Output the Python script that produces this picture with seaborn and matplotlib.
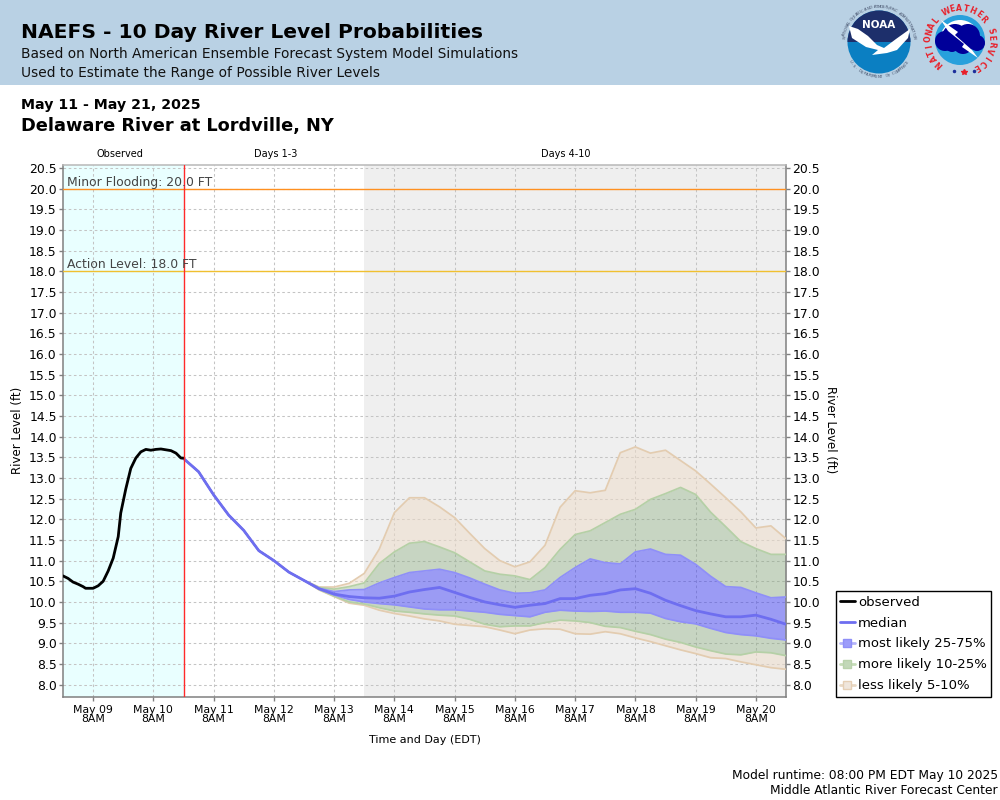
import numpy as np
import pandas as pd
import seaborn as sns
import matplotlib.pyplot as plt
from matplotlib.lines import Line2D
from matplotlib.patches import Circle, Wedge, Polygon

# observed stage, hours after May 08 8PM
obs_hours = [0, 2, 4, 6, 8, 9, 12, 14, 16, 18, 20, 22, 23, 25, 27, 29, 31, 33, 35, 37, 39, 41, 43, 45, 47, 48]
obs_level = [10.63, 10.57, 10.48, 10.43, 10.37, 10.33, 10.33, 10.39, 10.50, 10.75, 11.06, 11.58, 12.15,
             12.73, 13.23, 13.48, 13.63, 13.69, 13.67, 13.69, 13.70, 13.68, 13.66, 13.60, 13.48, 13.48]

# forecast, every 6 hours from May 10 8PM
median = [13.47, 13.15, 12.59, 12.10, 11.73, 11.24, 11.00, 10.72, 10.52, 10.32, 10.19, 10.13, 10.10,
          10.09, 10.14, 10.24, 10.30, 10.35, 10.23, 10.11, 10.00, 9.93, 9.87, 9.92, 9.96, 10.08, 10.08,
          10.16, 10.20, 10.29, 10.32, 10.21, 10.04, 9.91, 9.79, 9.71, 9.64, 9.64, 9.68, 9.58, 9.46]
q95 = [13.47, 13.15, 12.59, 12.10, 11.73, 11.24, 11.00, 10.72, 10.52, 10.36, 10.36, 10.45, 10.69,
       11.28, 12.16, 12.52, 12.52, 12.30, 12.04, 11.66, 11.29, 11.00, 10.85, 10.97, 11.37, 12.29, 12.69,
       12.64, 12.70, 13.61, 13.75, 13.60, 13.67, 13.42, 13.17, 12.85, 12.52, 12.18, 11.79, 11.84, 11.53]
q90 = [13.47, 13.15, 12.59, 12.10, 11.73, 11.24, 11.00, 10.72, 10.52, 10.35, 10.31, 10.37, 10.46,
       10.93, 11.21, 11.42, 11.46, 11.33, 11.19, 10.97, 10.75, 10.67, 10.63, 10.54, 10.83, 11.27, 11.63,
       11.72, 11.92, 12.12, 12.24, 12.48, 12.62, 12.77, 12.60, 12.17, 11.82, 11.46, 11.29, 11.15, 11.15]
q75 = [13.47, 13.15, 12.59, 12.10, 11.73, 11.24, 11.00, 10.72, 10.52, 10.33, 10.25, 10.29, 10.30,
       10.46, 10.59, 10.71, 10.75, 10.79, 10.71, 10.58, 10.43, 10.29, 10.21, 10.22, 10.29, 10.59, 10.83,
       11.04, 10.95, 10.92, 11.21, 11.28, 11.15, 11.13, 10.91, 10.62, 10.37, 10.35, 10.22, 10.10, 10.12]
q25 = [13.47, 13.15, 12.59, 12.10, 11.73, 11.24, 11.00, 10.72, 10.52, 10.31, 10.17, 10.06, 10.00,
       9.96, 9.93, 9.88, 9.83, 9.81, 9.81, 9.78, 9.75, 9.70, 9.67, 9.64, 9.75, 9.80, 9.78,
       9.77, 9.78, 9.75, 9.75, 9.73, 9.60, 9.52, 9.47, 9.36, 9.26, 9.21, 9.18, 9.12, 9.08]
q10 = [13.47, 13.15, 12.59, 12.10, 11.73, 11.24, 11.00, 10.72, 10.52, 10.30, 10.14, 10.00, 9.95,
       9.86, 9.78, 9.75, 9.71, 9.68, 9.66, 9.58, 9.46, 9.40, 9.42, 9.42, 9.50, 9.56, 9.54,
       9.50, 9.41, 9.38, 9.29, 9.21, 9.10, 9.02, 8.91, 8.82, 8.74, 8.72, 8.79, 8.77, 8.70]
q05 = [13.47, 13.15, 12.59, 12.10, 11.73, 11.24, 11.00, 10.72, 10.52, 10.29, 10.13, 9.97, 9.92,
       9.80, 9.72, 9.66, 9.59, 9.54, 9.46, 9.43, 9.40, 9.32, 9.23, 9.32, 9.35, 9.34, 9.23,
       9.22, 9.28, 9.23, 9.13, 9.04, 8.94, 8.84, 8.75, 8.65, 8.63, 8.55, 8.48, 8.41, 8.37]

tick_days = ['May 09', 'May 10', 'May 11', 'May 12', 'May 13', 'May 14', 'May 15', 'May 16', 'May 17', 'May 18',
             'May 19', 'May 20']

start = pd.Timestamp('2025-05-08 20:00')
now = pd.Timestamp('2025-05-10 20:00')
obs = pd.DataFrame({'time': start + pd.to_timedelta(obs_hours, unit='h'), 'level': obs_level})
fc = pd.DataFrame({'time': now + pd.to_timedelta(np.arange(len(median)) * 6, unit='h'), 'median': median,
                   'q95': q95, 'q90': q90, 'q75': q75, 'q25': q25, 'q10': q10, 'q05': q05})

sns.set_theme(style='white')
plt.rcParams['font.family'] = ['DejaVu Sans']
plt.rcParams['text.color'] = 'black'

fig = plt.figure(figsize=(10, 8), dpi=100, facecolor='white')


def px(x, y):
    return x / 1000, 1 - y / 800


ax = fig.add_axes([63 / 1000, 1 - 697 / 800, 723 / 1000, 532 / 800])
ax.axvspan(start, now, color='#e9ffff', lw=0, zorder=0)
ax.axvspan(pd.Timestamp('2025-05-13 20:00'), pd.Timestamp('2025-05-20 20:00'), color='#efefef', lw=0, zorder=0)

BLUE, GREEN, TAN = '#0000ff', '#6b995d', '#eedcc8'
ax.fill_between(fc['time'], fc['q90'], fc['q95'], color=TAN, alpha=0.5, lw=0, zorder=2)
ax.fill_between(fc['time'], fc['q05'], fc['q10'], color=TAN, alpha=0.5, lw=0, zorder=2)
ax.fill_between(fc['time'], fc['q75'], fc['q90'], color=GREEN, alpha=0.3, lw=0, zorder=2)
ax.fill_between(fc['time'], fc['q10'], fc['q25'], color=GREEN, alpha=0.3, lw=0, zorder=2)
ax.fill_between(fc['time'], fc['q25'], fc['q75'], color=BLUE, alpha=0.35, lw=0, zorder=2)

for col, c in [('q95', '#e3ccb0'), ('q05', '#e3ccb0'), ('q90', '#b5d0a6'), ('q10', '#b5d0a6'),
               ('q75', '#8f8ff8'), ('q25', '#8f8ff8')]:
    sns.lineplot(data=fc, x='time', y=col, color=c, lw=1.25, ax=ax, estimator=None, sort=False, legend=False, zorder=3)
sns.lineplot(data=fc, x='time', y='median', color='#6e6ef0', lw=2, ax=ax, estimator=None, sort=False, legend=False,
             zorder=4)
sns.lineplot(data=obs, x='time', y='level', color='black', lw=2, ax=ax, estimator=None, sort=False, legend=False,
             zorder=5)

ax.axhline(20, color='#ff9020', lw=1, zorder=3)
ax.axhline(18, color='#f0c030', lw=1, zorder=3)
ax.axvline(now, color='#ff2a2a', lw=1, zorder=6)

ax.set_xlim(start, pd.Timestamp('2025-05-20 20:00'))
ax.set_ylim(7.70, 20.57)
ax.set_yticks(np.arange(8, 20.51, 0.5))
ax.set_yticklabels([f'{v:.1f}' for v in np.arange(8, 20.51, 0.5)])
ax.set_xticks(pd.date_range('2025-05-09 08:00', periods=len(tick_days), freq='D'))
ax.set_xticklabels([f'{d}\n8AM' for d in tick_days])
ax.set_xlabel('')
ax.set_ylabel('')
ax.set_axisbelow(True)
ax.grid(True, color='#c4c4c4', ls=(0, (2.5, 2.5)), lw=0.75)
ax.tick_params(axis='y', labelsize=8.9, length=3, width=1, color='#808080', left=True, right=True, labelright=True,
               pad=1.5, labelcolor='black')
ax.tick_params(axis='x', labelsize=7.8, length=3, width=1, color='#808080', bottom=True, pad=2.5, labelcolor='black')
for lab in ax.get_xticklabels():
    lab.set_linespacing(0.98)
for side, c in [('left', '#808080'), ('bottom', '#808080'), ('right', '#808080'), ('top', '#b8b8b8')]:
    ax.spines[side].set_visible(True)
    ax.spines[side].set_color(c)
    ax.spines[side].set_linewidth(1.1)

ax.text(pd.Timestamp('2025-05-08 21:30'), 20.07, 'Minor Flooding: 20.0 FT', fontsize=8.9, color='#444444', zorder=7)
ax.text(pd.Timestamp('2025-05-08 21:30'), 18.07, 'Action Level: 18.0 FT', fontsize=8.9, color='#444444', zorder=7)

# legend
handles = [
    Line2D([], [], color='black', lw=2),
    Line2D([], [], color='#6e6ef0', lw=2),
    Line2D([], [], color='#b4b4fa', lw=2, marker='s', ms=6, mfc='#9c9cfa', mec='#8f8ff8'),
    Line2D([], [], color='#c5dcb8', lw=2, marker='s', ms=6, mfc='#c2d8b8', mec='#b9d2ab'),
    Line2D([], [], color='#e8d8c4', lw=2, marker='s', ms=6, mfc='#efe6dc', mec='#e5cfb5'),
]
labels = ['observed', 'median', 'most likely 25-75%', 'more likely 10-25%', 'less likely 5-10%']
leg = ax.legend(handles, labels, loc='lower left', bbox_to_anchor=px(835.5, 696.5), bbox_transform=fig.transFigure,
                fontsize=9.5, frameon=True, fancybox=False, framealpha=1, edgecolor='black', borderpad=0.32,
                labelspacing=0.6, handlelength=1.15, handletextpad=0.25, borderaxespad=0)
leg.get_frame().set_linewidth(1)

# section labels and axis labels
fig.text(*px(120, 154), 'Observed', fontsize=7, ha='center', va='center')
fig.text(*px(276, 154), 'Days 1-3', fontsize=7, ha='center', va='center')
fig.text(*px(566, 154), 'Days 4-10', fontsize=7, ha='center', va='center')
fig.text(*px(18, 430), 'River Level (ft)', fontsize=8.5, rotation=90, ha='center', va='center')
fig.text(*px(831, 430), 'River Level (ft)', fontsize=8.5, rotation=-90, ha='center', va='center')
fig.text(*px(425, 740), 'Time and Day (EDT)', fontsize=8, ha='center', va='center')
fig.text(*px(21, 105), 'May 11 - May 21, 2025', fontsize=10.2, weight='bold', va='center')
fig.text(*px(21, 126), 'Delaware River at Lordville, NY', fontsize=12.8, weight='bold', va='center')
fig.text(*px(998, 775), 'Model runtime: 08:00 PM EDT May 10 2025', fontsize=8.85, ha='right', va='center')
fig.text(*px(998, 791), 'Middle Atlantic River Forecast Center', fontsize=8.85, ha='right', va='center')

# header band
hdr = fig.add_axes([0, 1 - 85 / 800, 1, 85 / 800], zorder=10)
hdr.set_xlim(0, 1000)
hdr.set_ylim(85, 0)
hdr.set_facecolor('#b9d1e4')
hdr.set_xticks([])
hdr.set_yticks([])
for s in hdr.spines.values():
    s.set_visible(False)
hdr.text(21, 33, 'NAEFS - 10 Day River Level Probabilities', fontsize=14.55, weight='bold', va='center')
hdr.text(21, 54, 'Based on North American Ensemble Forecast System Model Simulations', fontsize=9.9, va='center',
         color='#111111')
hdr.text(21, 73, 'Used to Estimate the Range of Possible River Levels', fontsize=9.9, va='center', color='#111111')


def ring_text(text, cx, cy, r, a0, a1, flip=False, **kw):
    for ch, a in zip(text, np.linspace(a0, a1, len(text))):
        t = np.deg2rad(a)
        rot = a + 90 if flip else a - 90
        hdr.text(cx + r * np.cos(t), cy - r * np.sin(t), ch, rotation=rot, ha='center', va='center', **kw)


# NOAA logo, rough
cx, cy = 879, 42
hdr.add_patch(Circle((cx, cy), 31.5, color='#0b7fc2', lw=0))
hdr.add_patch(Wedge((cx, cy), 31.5, 180, 360, color='#1d2f6b', lw=0))
hdr.add_patch(Polygon([(849, 26), (858, 29), (868, 36), (877, 45), (884, 48), (896, 39), (910, 29), (908, 38),
                       (897, 50), (887, 53), (872, 55), (878, 50), (866, 47), (852, 38)], color='white', lw=0))
hdr.text(cx, 25, 'NOAA', color='white', fontsize=7.5, weight='bold', ha='center', va='center')
ring_text('NATIONAL OCEANIC AND ATMOSPHERIC ADMINISTRATION', cx, cy, 35, 172, 8, fontsize=2.8, color='#44506a')
ring_text('U.S. DEPARTMENT OF COMMERCE', cx, cy, 35, 215, 325, flip=True, fontsize=2.8, color='#44506a')

# NWS logo, rough
cx, cy = 960, 40
hdr.add_patch(Circle((cx, cy), 25, color='#27a0dc', lw=0))
hdr.add_patch(Wedge((cx, cy), 20, 195, 345, color='white', lw=0))
for dx, dy, r in [(-15, 1, 10), (-5, -3, 13), (8, -4, 12), (17, 3, 8), (3, 4, 10), (-8, 5, 7)]:
    hdr.add_patch(Circle((cx + dx, cy + dy), r, color='#000099', lw=0))
hdr.add_patch(Polygon([(941, 20), (958, 32), (955, 35), (972, 50), (978, 58), (962, 47), (964, 44), (948, 31)],
                      color='white', lw=0))
ring_text('NATIONAL WEATHER SERVICE', cx, cy, 31.5, 228, -58, fontsize=5.6, weight='bold', color='#e8202a')
hdr.plot([954, 974], [71, 71], ls='', marker='o', ms=1.5, color='#1d2f9b')
hdr.plot([964], [72], ls='', marker='*', ms=4, color='#e8202a')

fig.savefig('out.png', dpi=100)
